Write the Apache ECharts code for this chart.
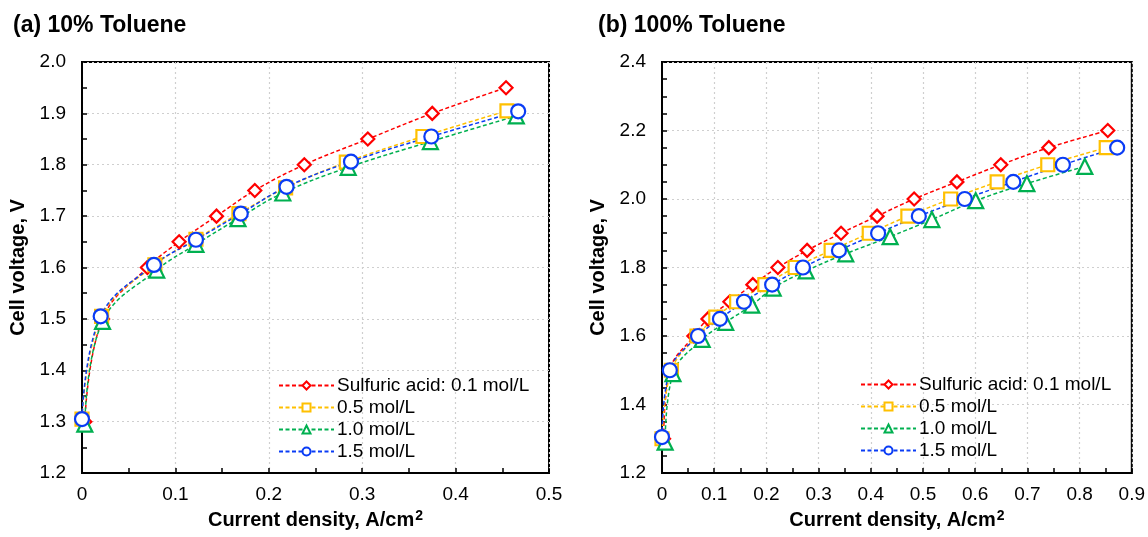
<!DOCTYPE html>
<html>
<head>
<meta charset="utf-8">
<script src="https://cdn.jsdelivr.net/npm/echarts@6/dist/echarts.min.js"></script>
<style>
  html, body { margin: 0; padding: 0; background: #fff; }
  #main { width: 1148px; height: 537px; }
</style>
</head>
<body>
<div id="main"></div>
<script>
// legend names / colours
var names = ['Sulfuric acid: 0.1 mol/L', '0.5 mol/L', '1.0 mol/L', '1.5 mol/L'];

// (a) 10% Toluene
var a01x = [0.003, 0.022, 0.07, 0.104, 0.144, 0.185, 0.238, 0.306, 0.375, 0.454];
var a01y = [1.30, 1.50, 1.60, 1.65, 1.70, 1.75, 1.80, 1.85, 1.90, 1.95];
var a05x = [0.0, 0.021, 0.078, 0.122, 0.168, 0.218, 0.283, 0.365, 0.455];
var a05y = [1.305, 1.505, 1.605, 1.655, 1.705, 1.755, 1.805, 1.855, 1.905];
var a10x = [0.003, 0.022, 0.08, 0.122, 0.167, 0.215, 0.285, 0.373, 0.465];
var a10y = [1.295, 1.495, 1.595, 1.645, 1.695, 1.745, 1.795, 1.845, 1.895];
var a15x = [0.0, 0.02, 0.077, 0.122, 0.17, 0.219, 0.288, 0.374, 0.467];
var a15y = [1.305, 1.505, 1.605, 1.654, 1.705, 1.757, 1.806, 1.855, 1.904];

// (b) 100% Toluene
var b01x = [0.003, 0.015, 0.061, 0.088, 0.13, 0.174, 0.222, 0.278, 0.343, 0.412, 0.483, 0.565, 0.649, 0.741, 0.854];
var b01y = [1.30, 1.50, 1.60, 1.65, 1.70, 1.75, 1.80, 1.85, 1.90, 1.95, 2.00, 2.05, 2.10, 2.15, 2.20];
var b05x = [0.0, 0.018, 0.067, 0.103, 0.143, 0.197, 0.255, 0.324, 0.397, 0.471, 0.553, 0.642, 0.739, 0.851];
var b05y = [1.30, 1.50, 1.60, 1.655, 1.70, 1.75, 1.80, 1.85, 1.90, 1.95, 2.00, 2.05, 2.10, 2.15];
var b10x = [0.006, 0.021, 0.077, 0.122, 0.172, 0.213, 0.276, 0.352, 0.437, 0.517, 0.601, 0.699, 0.81];
var b10y = [1.29, 1.49, 1.59, 1.64, 1.69, 1.74, 1.79, 1.84, 1.89, 1.94, 1.995, 2.045, 2.095];
var b15x = [0.0, 0.015, 0.069, 0.111, 0.157, 0.211, 0.27, 0.339, 0.414, 0.492, 0.58, 0.673, 0.768, 0.872];
var b15y = [1.305, 1.50, 1.60, 1.65, 1.70, 1.75, 1.80, 1.85, 1.90, 1.95, 2.00, 2.05, 2.10, 2.15];

var colors = ['#ff0000', '#ffc000', '#00b050', '#0a3cf5'];
var symbols = ['diamond', 'rect', 'triangle', 'circle'];
var sizes = [13, 13, 15, 14];

var FONT = 'Arial, "Liberation Sans", sans-serif';

function pairs(xs, ys) {
    var out = [];
    for (var i = 0; i < xs.length; i++) out.push([xs[i], ys[i]]);
    return out;
}

function mkSeries(idx, k, xs, ys) {
    return {
        name: names[k],
        type: 'line',
        xAxisIndex: idx,
        yAxisIndex: idx,
        data: pairs(xs, ys),
        color: colors[k],
        symbol: symbols[k],
        symbolSize: sizes[k],
        smooth: 0.4,
        itemStyle: { color: '#fff', borderColor: colors[k], borderWidth: 2.2 },
        lineStyle: { color: colors[k], width: 1.5, type: [4, 2.5] },
        emphasis: { disabled: true }
    };
}

function mkX(idx, max) {
    return {
        type: 'value', gridIndex: idx, min: 0, max: max, interval: 0.1,
        name: 'Current density, A/cm{s|2}',
        nameLocation: 'middle', nameGap: 34,
        nameTextStyle: {
            fontFamily: FONT, fontSize: 20, fontWeight: 'bold', color: '#000',
            rich: { s: { fontFamily: FONT, fontSize: 14, fontWeight: 'bold', color: '#000', padding: [0, 0, 9, 1] } }
        },
        axisLine: { lineStyle: { color: '#000', width: 2 } },
        axisTick: { inside: true, length: 5, lineStyle: { color: '#000', width: 1.5 } },
        minorTick: { show: true, splitNumber: 2, length: 5, lineStyle: { color: '#000', width: 1.5 } },
        splitLine: { show: true, lineStyle: { color: '#cfcfcf', type: [2, 3], width: 1.2 } },
        axisLabel: {
            fontFamily: FONT, fontSize: 19, color: '#000', margin: 12,
            formatter: function(v) { return v === 0 ? '0' : v.toFixed(1); }
        }
    };
}

function mkY(idx, max, step, minorSplit) {
    return {
        type: 'value', gridIndex: idx, min: 1.2, max: max, interval: step,
        name: 'Cell voltage, V',
        nameLocation: 'middle', nameGap: 54,
        nameTextStyle: { fontFamily: FONT, fontSize: 20, fontWeight: 'bold', color: '#000' },
        axisLine: { lineStyle: { color: '#000', width: 2 } },
        axisTick: { inside: true, length: 5, lineStyle: { color: '#000', width: 1.5 } },
        minorTick: { show: true, splitNumber: minorSplit, length: 5, lineStyle: { color: '#000', width: 1.5 } },
        splitLine: { show: true, lineStyle: { color: '#cfcfcf', type: [2, 3], width: 1.2 } },
        axisLabel: {
            fontFamily: FONT, fontSize: 19, color: '#000', margin: 16,
            formatter: function(v) { return v.toFixed(1); }
        }
    };
}

function mkLegend(left, top) {
    return {
        left: left, top: top, orient: 'vertical',
        itemWidth: 55, itemHeight: 10, itemGap: 3,
        data: names,
        selectedMode: false,
        textStyle: { fontFamily: FONT, fontSize: 19, color: '#000', padding: [0, 0, 0, -2] }
    };
}

var chart = echarts.init(document.getElementById('main'));

var option = {
    animation: false,
    backgroundColor: '#fff',
    title: [
        { text: '(a) 10% Toluene', left: 8, top: 9, textStyle: { fontFamily: FONT, fontSize: 23, fontWeight: 'bold', color: '#000' } },
        { text: '(b) 100% Toluene', left: 593, top: 9, textStyle: { fontFamily: FONT, fontSize: 23, fontWeight: 'bold', color: '#000' } }
    ],
    legend: [mkLegend(273, 371), mkLegend(855, 370)],
    grid: [
        { left: 82, top: 62, width: 467, height: 411, show: true, borderColor: '#000', borderWidth: 2 },
        { left: 662, top: 62, width: 470, height: 411, show: true, borderColor: '#000', borderWidth: 2 }
    ],
    xAxis: [mkX(0, 0.5), mkX(1, 0.9)],
    yAxis: [mkY(0, 2.0, 0.1, 2), mkY(1, 2.4, 0.2, 4)],
    series: [
        mkSeries(0, 0, a01x, a01y),
        mkSeries(0, 1, a05x, a05y),
        mkSeries(0, 2, a10x, a10y),
        mkSeries(0, 3, a15x, a15y),
        mkSeries(1, 0, b01x, b01y),
        mkSeries(1, 1, b05x, b05y),
        mkSeries(1, 2, b10x, b10y),
        mkSeries(1, 3, b15x, b15y)
    ]
};

chart.setOption(option);
</script>
</body>
</html>
